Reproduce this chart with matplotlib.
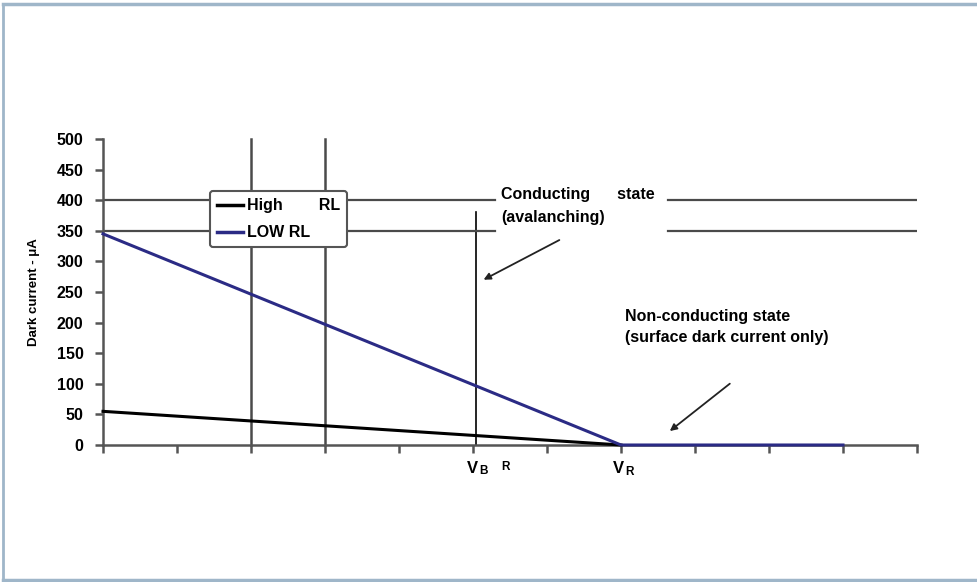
import matplotlib.pyplot as plt
from matplotlib.lines import Line2D

plt.rcParams['font.family'] = ['Liberation Sans', 'DejaVu Sans']
plt.rcParams['font.weight'] = 'bold'

# data (x in tick units, y in uA)
x_high = [0, 7]
high_rl = [55, 0]
x_low = [0, 7, 10]
low_rl = [345, 0, 0]
y_ticks = [0, 50, 100, 150, 200, 250, 300, 350, 400, 450, 500]
x_ticks = list(range(12))
grid_x = [2, 3]
vb_x = 5.04
vr_x = 7

W, H = 977, 582
fig = plt.figure(figsize=(W / 100, H / 100), dpi=100)
ax = fig.add_axes([103 / W, 1 - 445 / H, (917 - 103) / W, (445 - 139) / H])

ax.set_xlim(0, 11)
ax.set_ylim(0, 500)

grey = '#4a4a4a'
# vertical reference lines
for gx in grid_x:
    ax.plot([gx, gx], [0, 500], color=grey, lw=1.8, zorder=1, clip_on=False)
ax.plot([vb_x, vb_x], [0, 380], color='black', lw=1.2, zorder=1)

# horizontal lines with gaps for legend and text
for yy in [400, 350]:
    ax.plot([0, 1.45], [yy, yy], color=grey, lw=1.6, zorder=1)
    ax.plot([3.3, 5.3], [yy, yy], color=grey, lw=1.6, zorder=1)
    ax.plot([7.64, 11], [yy, yy], color=grey, lw=1.6, zorder=1)

ax.plot(x_high, high_rl, color='black', lw=2.2, zorder=3, clip_on=False)
ax.plot(x_low, low_rl, color='#2b2b85', lw=2.2, zorder=4, clip_on=False)

for s in ['top', 'right']:
    ax.spines[s].set_visible(False)
for s in ['left', 'bottom']:
    ax.spines[s].set_color('#555555')
    ax.spines[s].set_linewidth(1.8)
ax.set_xticks(x_ticks)
ax.set_xticklabels([])
ax.set_yticks(y_ticks)
ax.set_yticklabels([str(v) for v in y_ticks], fontsize=11.5, fontweight='bold')
ax.tick_params(axis='both', color='#555555', width=1.8, length=6, direction='out')
ax.tick_params(axis='y', pad=8)
ax.set_ylabel('Dark current - μA', fontsize=9.5, fontweight='bold', labelpad=12)

# legend
handles = [Line2D([], [], color='black', lw=2.5), Line2D([], [], color='#2b2b85', lw=2.5)]
leg = ax.legend(handles, ['High        RL', 'LOW RL'], loc='upper left',
                bbox_to_anchor=(210 / W, 1 - 191 / H), bbox_transform=fig.transFigure,
                borderaxespad=0, prop={'weight': 'bold', 'size': 11.5}, handlelength=1.6,
                handletextpad=0.25, borderpad=0.45, labelspacing=0.75, frameon=True,
                fancybox=True, framealpha=1, edgecolor='#555555')
leg.get_frame().set_linewidth(1.5)
leg.set_zorder(10)

# annotations
ax.text(5.38, 409, 'Conducting      state', fontsize=11.5, fontweight='bold', va='center')
ax.text(5.38, 371, '(avalanching)', fontsize=11.5, fontweight='bold', va='center')
ax.annotate('', xy=(5.11, 268), xytext=(6.2, 337),
            arrowprops=dict(arrowstyle='-|>', color='#222222', lw=1.3, mutation_scale=10))
ax.text(7.05, 210, 'Non-conducting state', fontsize=11.5, fontweight='bold', va='center')
ax.text(7.05, 175, '(surface dark current only)', fontsize=11.5, fontweight='bold', va='center')
ax.annotate('', xy=(7.63, 20), xytext=(8.5, 103),
            arrowprops=dict(arrowstyle='-|>', color='#222222', lw=1.3, mutation_scale=10))

# x labels V_B R and V_R
fig.text(467 / W, 1 - 473 / H, 'V', fontsize=12, fontweight='bold', va='baseline')
fig.text(479 / W, 1 - 474 / H, 'B', fontsize=8.5, fontweight='bold', va='baseline')
fig.text(501 / W, 1 - 470 / H, 'R', fontsize=8.5, fontweight='bold', va='baseline')
fig.text(613 / W, 1 - 473 / H, 'V', fontsize=12, fontweight='bold', va='baseline')
fig.text(625 / W, 1 - 475 / H, 'R', fontsize=8.5, fontweight='bold', va='baseline')

# outer frame
fc = '#9fb6c9'
fig.add_artist(Line2D([3 / W, 3 / W], [0, 1 - 4 / H], color=fc, lw=2, transform=fig.transFigure))
fig.add_artist(Line2D([3 / W, 1], [1 - 4 / H, 1 - 4 / H], color=fc, lw=2.5, transform=fig.transFigure))
fig.add_artist(Line2D([3 / W, 1], [1 - 580 / H, 1 - 580 / H], color=fc, lw=2.5, transform=fig.transFigure))

fig.savefig('out.png', dpi=100)
